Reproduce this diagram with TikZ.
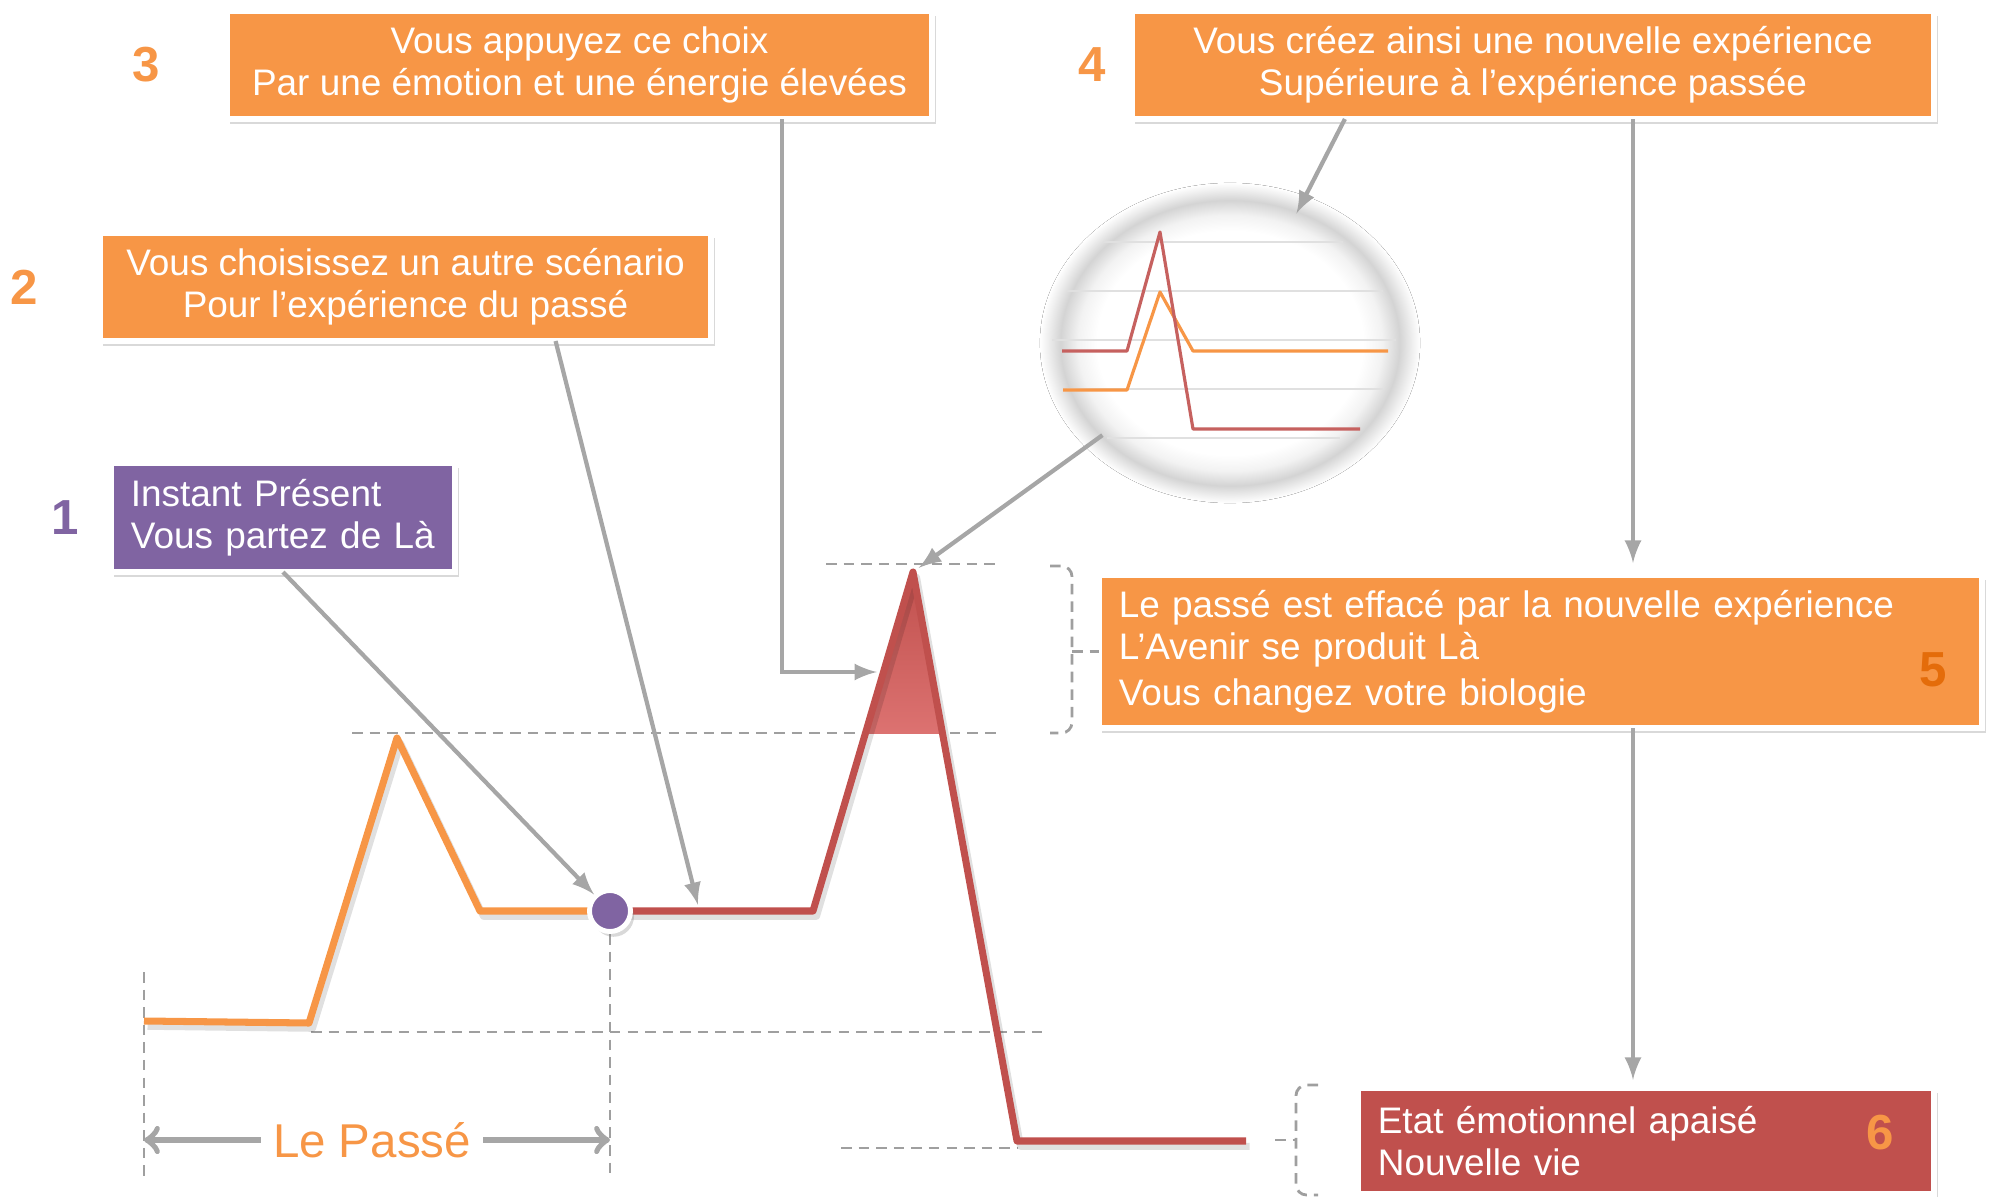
\documentclass[tikz,border=0pt]{standalone}
\usepackage{fontspec}
\setmainfont{Liberation Sans}
\usepackage{tikz}
\usetikzlibrary{arrows,shapes.geometric,shadows,calc}
\usetikzlibrary{positioning}
\definecolor{orng}{HTML}{F79646}
\definecolor{dorng}{HTML}{E46C0A}
\definecolor{rd}{HTML}{C0504D}
\definecolor{purp}{HTML}{8064A2}
\definecolor{gr}{HTML}{A6A6A6}
\definecolor{pinktop}{HTML}{F28C8C}
\definecolor{redbot}{HTML}{DC443E}
\pgfdeclareradialshading{lensglow}{\pgfpoint{0bp}{0bp}}{color(0bp)=(white); color(17.5bp)=(white); color(20bp)=(black!5); color(22.3bp)=(black!17); color(24bp)=(black!6); color(25bp)=(white); color(50bp)=(white)}

\begin{document}
\begin{tikzpicture}[x=0.01cm,y=-0.01cm,
        block/.style={draw=white,line width=1.8pt,outer sep=0pt,text=white,
          font=\fontsize{10.5}{12}\selectfont,
          drop shadow={opacity=0.3,shadow xshift=1pt,shadow yshift=-1.5pt}},
        num/.style={font=\fontsize{14}{14}\selectfont\bfseries,inner sep=0pt},
        ptr/.style={draw=gr,line width=1.2pt,-latex},
        guide/.style={draw=gray!75,line width=0.8pt,dash pattern=on 3pt off 2pt},
        curve/.style={line width=2pt,line join=round},
        mini/.style={line width=0.9pt,line join=round}]
   \useasboundingbox (0,0) rectangle (1993,1197);

   \node[block,fill=orng,minimum width=7.05cm,minimum height=1.08cm,align=center] (B3) at (579.5,65)
      {Vous appuyez ce choix\\Par une émotion et une énergie élevées};
   \node[block,fill=orng,minimum width=8.02cm,minimum height=1.08cm,align=center] (B4) at (1533,65)
      {Vous créez ainsi une nouvelle expérience\\Supérieure à l’expérience passée};
   \node[block,fill=orng,minimum width=6.11cm,minimum height=1.08cm,align=center] (B2) at (405.5,287)
      {Vous choisissez un autre scénario\\Pour l’expérience du passé};
   \node[block,fill=purp,inner xsep=0.2cm,text width=3.04cm,minimum height=1.09cm,align=left] (B1) at (283,517.5)
      {Instant Présent\\Vous partez de Là};
   \node[block,fill=orng,inner xsep=0.2cm,text width=8.43cm,minimum height=1.53cm,align=left] (B5) at (1540.5,651.5)
      {Le passé est effacé par la nouvelle expérience\\L’Avenir se produit Là\\[1pt]Vous changez votre biologie};
   \node[block,fill=rd,inner xsep=0.2cm,text width=5.36cm,minimum height=1.06cm,align=left] (B6) at (1646,1141)
      {Etat émotionnel apaisé\\Nouvelle vie};

   \node[num,text=purp,left=0.31cm of B1] (N1) {1};
   \node[num,text=orng,left=0.61cm of B2] (N2) {2};
   \node[num,text=orng,left=0.66cm of B3] (N3) {3};
   \node[num,text=orng,left=0.25cm of B4] (N4) {4};
   \node[num,text=dorng] (N5) at (1933,670) {5};
   \node[num,text=orng] (N6) at (1880,1133) {6};

   % magnifier
   \node[ellipse,minimum width=3.36cm,minimum height=2.8cm,inner sep=0pt] (L) at (1230,343) {};
   \fill[shading=lensglow] (L.center) ellipse [x radius=1.9cm,y radius=1.6cm];
   \foreach \yy/\xa/\xb in {242/1103/1343,291/1067/1383,340/1052/1396,389/1067/1383,438/1107/1340}
      \draw[black!12,line width=0.8pt] (\xa,\yy) -- (\xb,\yy);
   \draw[mini,orng] (1063,390) -- (1127,390) -- (1160,292) -- (1193,351) -- (1388,351);
   \draw[mini,rd!90] (1062,351) -- (1127,351) -- (1160,232) -- (1193,429) -- (1360,429);

   % guides
   \coordinate (V1) at (144,1176);
   \coordinate (V2) at (610,1176);
   \draw[guide] (826,564) -- (1000,564);
   \draw[guide] (352,733) -- (1000,733);
   \draw[guide] (311,1032) -- (1049,1032);
   \draw[guide] (841,1148) -- (1017,1148);
   \draw[guide] (144,972) -- (V1);
   \draw[guide] (610,934) -- (V2);

   % brackets
   \coordinate (BR5) at (1072,650);
   \draw[guide,rounded corners=3pt] (1050,566) -- (1072,566) -- (1072,733) -- (1050,733);
   \draw[guide] (BR5 |- B5.west) -- (B5.west);
   \coordinate (BR6) at (1296,1140);
   \draw[guide,rounded corners=3pt] (1318,1085) -- (1296,1085) -- (1296,1195) -- (1318,1195);
   \draw[guide] (1275,1140) -- (BR6);

   % graph
   \coordinate (O0) at (144,1021);
   \coordinate (O1) at (309,1023);
   \coordinate (O2) at (397,738);
   \coordinate (O3) at (480,911);
   \coordinate (R1) at (813,911);
   \coordinate (PK) at (913,572);
   \coordinate (R2) at (1017,1141);
   \coordinate (R3) at (1246,1141);
   \begin{scope}
      \clip (0,0) rectangle (1993,733);
      \fill[top color=rd,bottom color=redbot,middle color=pinktop] (R1) -- (PK) -- (R2) -- cycle;
   \end{scope}
   \draw[curve,black,opacity=0.12,transform canvas={xshift=1pt,yshift=-1.5pt}]
      (O0) -- (O1) -- (O2) -- (O3) -- (610,911) -- (R1) -- (PK) -- (R2) -- (R3);
   \draw[curve,rd] (610,911) -- (R1) -- (PK) -- (R2) -- (R3);
   \draw[curve,orng] (O0) -- (O1) -- (O2) -- (O3) -- (610,911);
   \node[circle,fill=purp,draw=white,line width=1.4pt,minimum size=0.41cm,inner sep=0pt,
      drop shadow={opacity=0.3,shadow xshift=1pt,shadow yshift=-1.5pt}] (D) at (610,911) {};

   % pointers
   \coordinate (T2) at (698,905);
   \coordinate (T3) at (877,672);
   \coordinate (V) at (1633,0);
   \draw[ptr] (B1.south) -- (D);
   \draw[ptr] ([xshift=1.5cm]B2.south) -- (T2);
   \draw[ptr] ([xshift=2.02cm]B3.south) |- (T3);
   \draw[ptr] ([xshift=-1.88cm]B4.south) -- (L);
   \draw[ptr,shorten >=2pt] (L) -- (PK);
   \draw[ptr,shorten >=3.4pt] (B4.south -| V) -- (B5.north -| V);
   \draw[ptr,shorten >=2.3pt] (B5.south -| V) -- (B6.north -| V);

   \node[text=orng,font=\fontsize{13.5}{14}\selectfont] (P) at (372,1140) {Le Passé};
   \draw[gr,line width=1.8pt,-to] (P.west) -- (V1 |- P);
   \draw[gr,line width=1.8pt,-to] (P.east) -- (V2 |- P);

\end{tikzpicture}
\end{document}
